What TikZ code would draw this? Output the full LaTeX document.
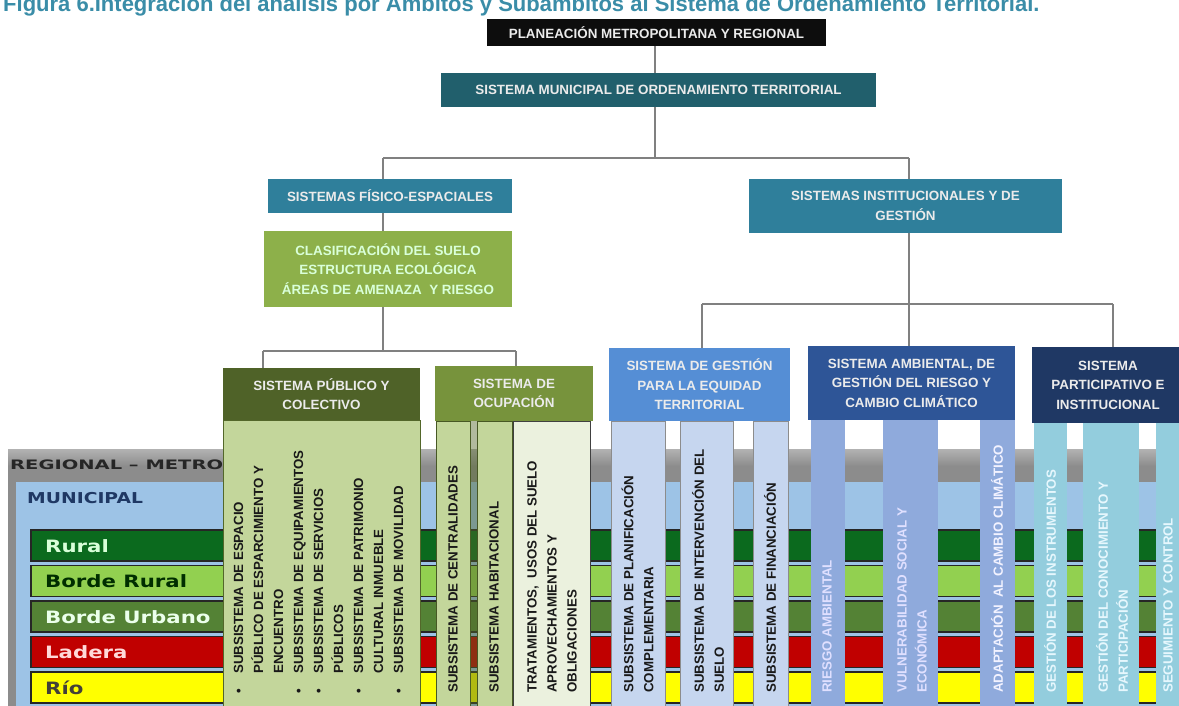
\documentclass[tikz,border=0pt]{standalone}
\usepackage{fontspec}
\setmainfont{Liberation Sans}
\newfontfamily\widefont{DejaVu Sans}[FakeStretch=1.25]
\newfontfamily\widerfont{DejaVu Sans}[FakeStretch=1.5]
\definecolor{titlec}{HTML}{3A8DA8}
\definecolor{munic}{HTML}{215F6C}
\definecolor{sisc}{HTML}{2F7F9B}
\definecolor{clasc}{HTML}{8DB04A}
\definecolor{pubh}{HTML}{4F6228}
\definecolor{ocuh}{HTML}{77933C}
\definecolor{gesh}{HTML}{558ED5}
\definecolor{ambh}{HTML}{2E5597}
\definecolor{parh}{HTML}{1F3864}
\definecolor{olivel}{HTML}{C3D69B}
\definecolor{olivexl}{HTML}{EBF1DE}
\definecolor{gesc}{HTML}{C6D6EF}
\definecolor{ambc}{HTML}{8FAADC}
\definecolor{parc}{HTML}{93CDDD}
\definecolor{lblue}{HTML}{9DC3E6}
\definecolor{grayb}{HTML}{8C8C8C}
\definecolor{ruralc}{HTML}{0B6A1E}
\definecolor{bruralc}{HTML}{92D050}
\definecolor{burbc}{HTML}{548235}
\definecolor{laderac}{HTML}{C00000}
\definecolor{rioc}{HTML}{FFFF00}
\definecolor{connc}{HTML}{808080}
\newcommand{\hdfont}{\fontsize{13.4}{19.5}\selectfont\bfseries}
\newcommand{\colfont}{\fontsize{13.3}{20}\selectfont\bfseries}
\newcommand{\rowfont}{\widefont\fontsize{17}{17}\selectfont\bfseries}
\newcommand{\blt}{\makebox[22pt][l]{\,•}}
\newcommand{\nbl}{\hspace*{22pt}}
\begin{document}
\begin{tikzpicture}[x=1pt,y=-1pt,
  box/.style={rectangle, inner sep=0pt, outer sep=0pt, anchor=north west, align=center, font=\hdfont, text=white!92!black},
  colbox/.style={rectangle, inner sep=0pt, outer sep=0pt, anchor=north west, line width=0.6pt},
  ctext/.style={rotate=90, anchor=west, align=left, inner sep=0pt, font=\colfont},
  rowbox/.style={rectangle, inner sep=0pt, outer sep=0pt, anchor=north west, draw=black!85, line width=1.6pt, minimum width=1160pt, minimum height=31pt},
  rowt/.style={anchor=west, inner sep=0pt, font=\rowfont},
  ln/.style={draw=connc, line width=1.1pt}]
\useasboundingbox (0,0) rectangle (1179,706);
\clip (0,0) rectangle (1179,706);
\fill[white] (0,0) rectangle (1179,706);

% title (cut at the top edge, as in the reference)
\node[anchor=base west, inner sep=0pt, text=titlec, font=\fontsize{22}{22}\selectfont\bfseries] (title) at (3,12) {Figura 6.Integración del análisis por Ámbitos y Subámbitos al Sistema de Ordenamiento Territorial.};

% background bands
\node[rectangle, inner sep=0pt, anchor=north west, fill=grayb, minimum width=1175pt, minimum height=260pt] (regional) at (8,449) {};
\fill[top color=black!30, bottom color=grayb] (8,449) rectangle (1179,466);
\node[rectangle, inner sep=0pt, anchor=north west, fill=lblue, minimum width=1170pt, minimum height=230pt] (municipal) at (16,482) {};
\node[anchor=west, inner sep=0pt, text=black!85, font=\widerfont\fontsize{13}{13}\selectfont\bfseries] (regt) at (10,465) {REGIONAL – METRO};
\node[anchor=west, inner sep=0pt, text=parh, font=\widefont\fontsize{15}{15}\selectfont\bfseries] (munt) at (27,498) {MUNICIPAL};

\node[rowbox, fill=ruralc] (rural) at (31,530) {};
\node[rowbox, fill=bruralc] (brural) at (31,565.5) {};
\node[rowbox, fill=burbc] (burb) at (31,601) {};
\node[rowbox, fill=laderac] (ladera) at (31,636.5) {};
\node[rowbox, fill=rioc] (rio) at (31,672) {};
\node[rowt, text=green!15!white] (ruralt) at (45,546) {Rural};
\node[rowt, text=black!70!green!60!black] (bruralt) at (45,581.5) {Borde Rural};
\node[rowt, text=green!8!white] (burbt) at (45,617) {Borde Urbano};
\node[rowt, text=red!15!white] (laderat) at (45,652.5) {Ladera};
\node[rowt, text=black!75!yellow!60!black] (riot) at (45,688) {Río};

% columns
\node[colbox, fill=olivel, draw=ocuh!70!black, minimum width=197pt, minimum height=290pt] (pubc) at (223,420) {};
\node[colbox, fill=olivel, draw=ocuh!60!black, minimum width=34pt, minimum height=290pt] (ocu1) at (436,421) {};
\node[colbox, fill=ocuh!70!black, fill opacity=0.45, minimum width=7pt, minimum height=290pt] (ocugap) at (470,421) {};
\node[colbox, fill=olivel, draw=ocuh!60!black, minimum width=35pt, minimum height=290pt] (ocu2) at (477,421) {};
\node[colbox, fill=olivexl, draw=black!75, line width=1pt, minimum width=77pt, minimum height=290pt] (ocu3) at (513,421) {};
\node[colbox, fill=gesc, draw=black!45, minimum width=54pt, minimum height=290pt] (ges1) at (611,421) {};
\node[colbox, fill=gesc, draw=black!45, minimum width=53pt, minimum height=290pt] (ges2) at (680,421) {};
\node[colbox, fill=gesc, draw=black!45, minimum width=35pt, minimum height=290pt] (ges3) at (753,421) {};
\node[colbox, fill=ambc, minimum width=34pt, minimum height=290pt] (amb1) at (811,420) {};
\node[colbox, fill=ambc, minimum width=55pt, minimum height=290pt] (amb2) at (883,420) {};
\node[colbox, fill=ambc, minimum width=35pt, minimum height=290pt] (amb3) at (980,420) {};
\node[colbox, fill=parc, minimum width=33pt, minimum height=290pt] (par1) at (1034,423) {};
\node[colbox, fill=parc, minimum width=56pt, minimum height=290pt] (par2) at (1083,423) {};
\node[colbox, fill=parc, minimum width=30pt, minimum height=290pt] (par3) at (1156,423) {};

% column texts
\node[ctext, text=black!90] (pubt) at (318.5,696) {\blt SUBSISTEMA DE ESPACIO\\\nbl PÚBLICO DE ESPARCIMIENTO Y\\\nbl ENCUENTRO\\\blt SUBSISTEMA DE EQUIPAMIENTOS\\\blt SUBSISTEMA DE SERVICIOS\\\nbl PÚBLICOS\\\blt SUBSISTEMA DE PATRIMONIO\\\nbl CULTURAL INMUEBLE\\\blt SUBSISTEMA DE MOVILIDAD};
\node[ctext, text=black!90] (ocu1t) at (453,693) {SUBSISTEMA DE CENTRALIDADES};
\node[ctext, text=black!90] (ocu2t) at (494,693) {SUBSISTEMA HABITACIONAL};
\node[ctext, text=black!90] (ocu3t) at (552,693) {TRATAMIENTOS,\ \ USOS DEL SUELO\\APROVECHAMIENTOS Y\\OBLIGACIONES};
\node[ctext, text=black!90] (ges1t) at (637.5,693) {SUBSISTEMA DE PLANIFICACIÓN\\COMPLEMENTARIA};
\node[ctext, text=black!90] (ges2t) at (708,693) {SUBSISTEMA DE INTERVENCIÓN DEL\\SUELO};
\node[ctext, text=black!90] (ges3t) at (770,693) {SUBSISTEMA DE FINANCIACIÓN};
\node[ctext, text=white!88!blue] (amb1t) at (827,693) {RIESGO AMBIENTAL};
\node[ctext, text=white!88!blue] (amb2t) at (912,693) {VULNERABILIDAD SOCIAL Y\\ECONÓMICA};
\node[ctext, text=white!95!blue] (amb3t) at (997,693) {ADAPTACIÓN\ \ AL CAMBIO CLIMÁTICO};
\node[ctext, text=white!90!cyan] (par1t) at (1050,693) {GESTIÓN DE LOS INSTRUMENTOS};
\node[ctext, text=white!90!cyan] (par2t) at (1112,693) {GESTIÓN DEL CONOCIMIENTO Y\\PARTICIPACIÓN};
\node[ctext, text=white!90!cyan] (par3t) at (1168,693) {SEGUIMIENTO Y CONTROL};

% headers
\node[box, fill=black!95, minimum width=339pt, minimum height=27pt] (plan) at (487,19) {PLANEACIÓN METROPOLITANA Y REGIONAL};
\node[box, fill=munic, minimum width=435pt, minimum height=34pt] (muni) at (441,73) {SISTEMA MUNICIPAL DE ORDENAMIENTO TERRITORIAL};
\node[box, fill=sisc, minimum width=244pt, minimum height=34pt] (fis) at (268,179) {SISTEMAS FÍSICO-ESPACIALES};
\node[box, fill=sisc, minimum width=313pt, minimum height=54pt] (inst) at (749,179) {SISTEMAS INSTITUCIONALES Y DE\\GESTIÓN};
\node[box, fill=clasc, text=white!85!green, minimum width=248pt, minimum height=76pt] (clas) at (264,231) {CLASIFICACIÓN DEL SUELO\\ESTRUCTURA ECOLÓGICA\\ÁREAS DE AMENAZA\ \ Y RIESGO};
\node[box, fill=pubh, minimum width=197pt, minimum height=52pt] (pub) at (223,368) {SISTEMA PÚBLICO Y\\COLECTIVO};
\node[box, fill=ocuh, minimum width=158pt, minimum height=55pt] (ocu) at (435,366) {SISTEMA DE\\OCUPACIÓN};
\node[box, fill=gesh, minimum width=181pt, minimum height=73pt] (ges) at (609,348) {SISTEMA DE GESTIÓN\\PARA LA EQUIDAD\\TERRITORIAL};
\node[box, fill=ambh, minimum width=207pt, minimum height=74pt] (amb) at (808,346) {SISTEMA AMBIENTAL, DE\\GESTIÓN DEL RIESGO Y\\CAMBIO CLIMÁTICO};
\node[box, fill=parh, minimum width=152pt, minimum height=76pt] (par) at (1032,347) {SISTEMA\\PARTICIPATIVO E\\INSTITUCIONAL};

% connectors
\coordinate (jT) at (655,158);
\coordinate (jL) at (383,158);
\coordinate (jR) at (909,158);
\coordinate (jC) at (383,351);
\coordinate (jCL) at (263,351);
\coordinate (jCR) at (516,351);
\coordinate (jI) at (909,304);
\coordinate (jIL) at (702,304);
\coordinate (jIR) at (1113,304);
\draw[ln] (plan.south -| jT) -- (muni.north -| jT);
\draw[ln] (muni.south -| jT) -- (jT);
\draw[ln] (jL) -- (jR);
\draw[ln] (jL) -- (fis.north -| jL);
\draw[ln] (jR) -- (inst.north -| jR);
\draw[ln] (fis.south -| jL) -- (clas.north -| jL);
\draw[ln] (clas.south -| jC) -- (jC);
\draw[ln] (jCL) -- (jCR);
\draw[ln] (jCL) -- (pub.north -| jCL);
\draw[ln] (jCR) -- (ocu.north -| jCR);
\draw[ln] (inst.south -| jI) -- (jI);
\draw[ln] (jIL) -- (jIR);
\draw[ln] (jIL) -- (ges.north -| jIL);
\draw[ln] (jI) -- (amb.north -| jI);
\draw[ln] (jIR) -- (par.north -| jIR);
\end{tikzpicture}
\end{document}
